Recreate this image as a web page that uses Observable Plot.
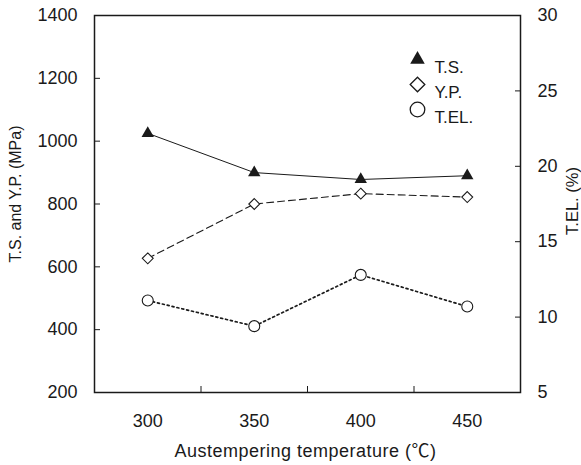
<!DOCTYPE html>
<html>
<head>
<meta charset="utf-8">
<script src="https://cdn.jsdelivr.net/npm/d3@7"></script>
<script src="https://cdn.jsdelivr.net/npm/@observablehq/plot@0.6"></script>
<style>
  html, body { margin: 0; padding: 0; background: #fff; }
  #chart svg { display: block; }
  #chart .xtitle text { letter-spacing: 0.5px; }
</style>
</head>
<body>
<div id="chart"></div>
<script>
// Data
const temperatures = [300, 350, 400, 450];
const tsValues = [1025, 900, 878, 890];      // T.S. (MPa)
const ypValues = [627, 800, 833, 822];       // Y.P. (MPa)
const telValues = [11.1, 9.4, 12.8, 10.7];   // T.EL. (%)
const leftTicks = [200, 400, 600, 800, 1000, 1200, 1400];
const rightTicks = [5, 10, 15, 20, 25, 30];
const xTicks = [300, 350, 400, 450];
const xBoundaries = [325, 375, 425];

// map right-axis (%) values onto left-axis (MPa) coordinates
const rMin = 5, rMax = 30, lMin = 200, lMax = 1400;
const toLeft = v => lMin + (v - rMin) * (lMax - lMin) / (rMax - rMin);
const fromLeft = v => rMin + (v - lMin) * (rMax - rMin) / (lMax - lMin);

const ts = temperatures.map((t, i) => ({t, v: tsValues[i]}));
const yp = temperatures.map((t, i) => ({t, v: ypValues[i]}));
const tel = temperatures.map((t, i) => ({t, v: toLeft(telValues[i])}));

const font = "'Liberation Sans', Arial, 'Noto Sans CJK JP', sans-serif";
const ink = "#1a1a1a";
const fmt = d3.format("d");

const chart = Plot.plot({
  width: 581,
  height: 465,
  marginLeft: 94,
  marginRight: 61,
  marginTop: 15,
  marginBottom: 73,
  style: {fontFamily: font, fontSize: "16px", color: ink, background: "#fff"},
  x: {type: "linear", domain: [275, 475], axis: null},
  y: {type: "linear", domain: [lMin, lMax], axis: null},
  marks: [
    // left axis: labels + inward ticks
    Plot.axisY(leftTicks, {anchor: "left", tickSize: 0, tickPadding: 17, tickFormat: fmt, label: null, fontSize: 18, fill: ink}),
    Plot.axisY(leftTicks, {anchor: "left", tickSize: 6, dx: 6, tickFormat: () => "", label: null, stroke: ink}),
    // right axis (T.EL. %)
    Plot.axisY(rightTicks.map(toLeft), {anchor: "right", tickSize: 0, tickPadding: 17, tickFormat: d => fmt(Math.round(fromLeft(d))), label: null, fontSize: 18, fill: ink}),
    Plot.axisY(rightTicks.map(toLeft), {anchor: "right", tickSize: 6, dx: -6, tickFormat: () => "", label: null, stroke: ink}),
    // bottom axis
    Plot.axisX(xTicks, {anchor: "bottom", tickSize: 0, tickPadding: 22, tickFormat: fmt, label: null, fontSize: 18, fill: ink}),
    Plot.axisX(xBoundaries, {anchor: "bottom", tickSize: 6, dy: -6, tickFormat: () => "", label: null, stroke: ink}),
    Plot.frame({stroke: ink, strokeWidth: 1.5}),

    // series lines
    Plot.line(ts, {x: "t", y: "v", stroke: ink, strokeWidth: 1}),
    Plot.line(yp, {x: "t", y: "v", stroke: ink, strokeWidth: 1.1, strokeDasharray: "7,4"}),
    Plot.line(tel, {x: "t", y: "v", stroke: ink, strokeWidth: 1.7, strokeDasharray: "2,3"}),

    // series markers
    Plot.dot(ts, {x: "t", y: "v", symbol: "triangle", r: 4.6, fill: ink, stroke: "none"}),
    Plot.dot(yp, {x: "t", y: "v", symbol: "diamond2", r: 4.9, fill: "#fff", stroke: ink, strokeWidth: 1.1}),
    Plot.dot(tel, {x: "t", y: "v", symbol: "circle", r: 5.5, fill: "#fff", stroke: ink, strokeWidth: 1.1}),

    // legend
    Plot.dot([0], {frameAnchor: "top-right", dx: -103, dy: 44, symbol: "triangle", r: 5.4, fill: ink, stroke: "none"}),
    Plot.dot([0], {frameAnchor: "top-right", dx: -103, dy: 69, symbol: "diamond2", r: 6.6, fill: "#fff", stroke: ink, strokeWidth: 1.3}),
    Plot.dot([0], {frameAnchor: "top-right", dx: -103, dy: 94, symbol: "circle", r: 7.3, fill: "#fff", stroke: ink, strokeWidth: 1.3}),
    Plot.text(["T.S."], {frameAnchor: "top-right", dx: -86, dy: 45, textAnchor: "start", fontSize: 17, fill: ink}),
    Plot.text(["Y.P."], {frameAnchor: "top-right", dx: -86, dy: 70, textAnchor: "start", fontSize: 17, fill: ink}),
    Plot.text(["T.EL."], {frameAnchor: "top-right", dx: -86, dy: 95, textAnchor: "start", fontSize: 17, fill: ink}),

    // axis titles
    Plot.text(["T.S. and Y.P. (MPa)"], {frameAnchor: "left", textAnchor: "middle", dx: -79, dy: -10, rotate: -90, fontSize: 16, fill: ink}),
    Plot.text(["T.EL. (%)"], {frameAnchor: "right", textAnchor: "middle", dx: 52, dy: -3, rotate: -90, fontSize: 16.5, fill: ink}),
    Plot.text(["Austempering temperature (℃)"], {frameAnchor: "bottom", textAnchor: "middle", dx: -2, dy: 64, fontSize: 18, fill: ink, className: "xtitle"})
  ]
});

document.getElementById("chart").appendChild(chart);
</script>
</body>
</html>
